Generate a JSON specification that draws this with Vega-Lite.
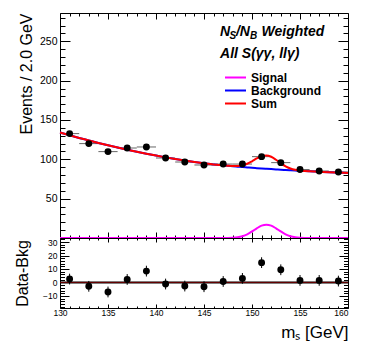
{
  "$schema": "https://vega.github.io/schema/vega-lite/v6.json",
  "background": "white",
  "padding": {"left": 14, "top": 12, "right": 5, "bottom": 5},
  "spacing": 0,
  "bounds": "flush",
  "datasets": {
    "pts": [
      {"m": 131, "lo": 130, "hi": 132, "ev": 132.7, "res": 2.5, "err": 4},
      {"m": 133, "lo": 132, "hi": 134, "ev": 120.0, "res": -2.9, "err": 4},
      {"m": 135, "lo": 134, "hi": 136, "ev": 109.8, "res": -7.1, "err": 4},
      {"m": 137, "lo": 136, "hi": 138, "ev": 114.4, "res": 2.2, "err": 4},
      {"m": 139, "lo": 138, "hi": 140, "ev": 115.7, "res": 8.4, "err": 4},
      {"m": 141, "lo": 140, "hi": 142, "ev": 101.7, "res": -1.2, "err": 4},
      {"m": 143, "lo": 142, "hi": 144, "ev": 96.6, "res": -2.7, "err": 4},
      {"m": 145, "lo": 144, "hi": 146, "ev": 92.8, "res": -3.2, "err": 4},
      {"m": 147, "lo": 146, "hi": 148, "ev": 94.0, "res": 0.7, "err": 4},
      {"m": 149, "lo": 148, "hi": 150, "ev": 94.0, "res": 3.0, "err": 4},
      {"m": 151, "lo": 150, "hi": 152, "ev": 103.4, "res": 14.7, "err": 4},
      {"m": 153, "lo": 152, "hi": 154, "ev": 95.8, "res": 9.4, "err": 4},
      {"m": 155, "lo": 154, "hi": 156, "ev": 87.0, "res": 1.5, "err": 4},
      {"m": 157, "lo": 156, "hi": 158, "ev": 85.2, "res": 1.5, "err": 4},
      {"m": 159, "lo": 158, "hi": 160, "ev": 83.9, "res": 1.0, "err": 4}
    ],
    "curves": [
      {"x": 130, "sig": 0, "bkg": 134.0, "sum": 134.0},
      {"x": 131, "sig": 0, "bkg": 130.5, "sum": 130.5},
      {"x": 132, "sig": 0, "bkg": 127.2, "sum": 127.2},
      {"x": 133, "sig": 0, "bkg": 124.0, "sum": 124.0},
      {"x": 134, "sig": 0, "bkg": 120.8, "sum": 120.8},
      {"x": 135, "sig": 0, "bkg": 117.8, "sum": 117.8},
      {"x": 136, "sig": 0, "bkg": 115.0, "sum": 115.0},
      {"x": 137, "sig": 0, "bkg": 112.3, "sum": 112.3},
      {"x": 138, "sig": 0, "bkg": 109.7, "sum": 109.7},
      {"x": 139, "sig": 0, "bkg": 107.2, "sum": 107.2},
      {"x": 140, "sig": 0, "bkg": 104.8, "sum": 104.8},
      {"x": 141, "sig": 0, "bkg": 102.5, "sum": 102.5},
      {"x": 142, "sig": 0, "bkg": 100.4, "sum": 100.4},
      {"x": 143, "sig": 0, "bkg": 98.4, "sum": 98.4},
      {"x": 144, "sig": 0, "bkg": 96.6, "sum": 96.6},
      {"x": 145, "sig": 0, "bkg": 94.9, "sum": 94.9},
      {"x": 146, "sig": 0, "bkg": 93.4, "sum": 93.4},
      {"x": 146.5, "sig": 0, "bkg": 92.9, "sum": 92.9},
      {"x": 147, "sig": 0.03, "bkg": 92.4, "sum": 92.43},
      {"x": 147.5, "sig": 0.1, "bkg": 91.7, "sum": 91.8},
      {"x": 148, "sig": 0.34, "bkg": 91.1, "sum": 91.44},
      {"x": 148.5, "sig": 0.95, "bkg": 90.6, "sum": 91.55},
      {"x": 149, "sig": 2.3, "bkg": 90.1, "sum": 92.4},
      {"x": 149.5, "sig": 4.7, "bkg": 89.65, "sum": 94.35},
      {"x": 150, "sig": 8.3, "bkg": 89.2, "sum": 97.5},
      {"x": 150.5, "sig": 12.3, "bkg": 88.8, "sum": 101.1},
      {"x": 151, "sig": 15.7, "bkg": 88.4, "sum": 104.1},
      {"x": 151.5, "sig": 17.0, "bkg": 88.0, "sum": 105.0},
      {"x": 152, "sig": 15.7, "bkg": 87.6, "sum": 103.3},
      {"x": 152.5, "sig": 12.3, "bkg": 87.2, "sum": 99.5},
      {"x": 153, "sig": 8.3, "bkg": 86.8, "sum": 95.1},
      {"x": 153.5, "sig": 4.7, "bkg": 86.45, "sum": 91.15},
      {"x": 154, "sig": 2.3, "bkg": 86.1, "sum": 88.4},
      {"x": 154.5, "sig": 0.95, "bkg": 85.75, "sum": 86.7},
      {"x": 155, "sig": 0.34, "bkg": 85.4, "sum": 85.74},
      {"x": 155.5, "sig": 0.1, "bkg": 85.1, "sum": 85.2},
      {"x": 156, "sig": 0.03, "bkg": 84.8, "sum": 84.83},
      {"x": 156.5, "sig": 0, "bkg": 84.5, "sum": 84.5},
      {"x": 157, "sig": 0, "bkg": 84.2, "sum": 84.2},
      {"x": 158, "sig": 0, "bkg": 83.6, "sum": 83.6},
      {"x": 159, "sig": 0, "bkg": 83.1, "sum": 83.1},
      {"x": 160, "sig": 0, "bkg": 82.6, "sum": 82.6}
    ],
    "zero": [{"x": 130, "y": 0}, {"x": 160, "y": 0}]
  },
  "vconcat": [
    {
      "width": 288,
      "height": 225,
      "resolve": {"axis": {"x": "independent", "y": "independent"}},
      "layer": [
        {
          "data": {"name": "pts"},
          "mark": {"type": "rule", "color": "#666666", "strokeWidth": 1},
          "encoding": {
            "x": {"field": "lo", "type": "quantitative", "scale": {"domain": [130, 160], "nice": false, "zero": false},
              "axis": {"orient": "bottom", "values": [130, 135, 140, 145, 150, 155, 160], "tickSize": -6, "labels": false, "title": null}},
            "x2": {"field": "hi"},
            "y": {"field": "ev", "type": "quantitative", "scale": {"domain": [0, 286], "nice": false, "zero": false},
              "axis": {"orient": "left", "values": [50, 100, 150, 200, 250], "tickSize": -10, "labelPadding": 13, "labelFontSize": 10.5,
                "title": "Events / 2.0 GeV", "titleFontSize": 16, "titleX": -29, "titleY": 0, "titleAngle": 270, "titleAlign": "right", "titleBaseline": "alphabetic"}}
          }
        },
        {
          "data": {"name": "curves"},
          "mark": {"type": "line", "strokeWidth": 2, "interpolate": "monotone"},
          "encoding": {
            "x": {"field": "x", "type": "quantitative", "axis": {"orient": "top", "values": [130, 135, 140, 145, 150, 155, 160], "tickSize": -6, "labels": false, "title": null}},
            "y": {"field": "sig", "type": "quantitative", "axis": {"orient": "right", "values": [50, 100, 150, 200, 250], "tickSize": -10, "labels": false, "title": null}},
            "color": {"datum": "Signal", "type": "nominal",
              "scale": {"domain": ["Signal", "Background", "Sum"], "range": ["#ff00ff", "#0000ff", "#ff0000"]},
              "legend": {"orient": "none", "legendX": 164, "legendY": 59, "title": null, "symbolType": "stroke", "symbolStrokeWidth": 2, "symbolSize": 441, "labelFont": "Liberation Sans", "labelFontWeight": "bold", "labelFontSize": 12, "labelColor": "black", "labelOffset": 4, "clipHeight": 11, "rowPadding": 0, "padding": 0}}
          }
        },
        {
          "data": {"name": "curves"},
          "mark": {"type": "line", "strokeWidth": 2, "interpolate": "monotone"},
          "encoding": {
            "x": {"field": "x", "type": "quantitative", "axis": {"orient": "top", "values": [131, 132, 133, 134, 136, 137, 138, 139, 141, 142, 143, 144, 146, 147, 148, 149, 151, 152, 153, 154, 156, 157, 158, 159], "tickSize": -3, "labels": false, "title": null}},
            "y": {"field": "bkg", "type": "quantitative", "axis": {"orient": "right", "values": [10, 20, 30, 40, 60, 70, 80, 90, 110, 120, 130, 140, 160, 170, 180, 190, 210, 220, 230, 240, 260, 270, 280], "tickSize": -5, "labels": false, "title": null}},
            "color": {"datum": "Background", "type": "nominal"}
          }
        },
        {
          "data": {"name": "curves"},
          "mark": {"type": "line", "strokeWidth": 2, "interpolate": "monotone"},
          "encoding": {
            "x": {"field": "x", "type": "quantitative", "axis": null},
            "y": {"field": "sum", "type": "quantitative", "axis": null},
            "color": {"datum": "Sum", "type": "nominal"}
          }
        },
        {
          "data": {"name": "pts"},
          "mark": {"type": "point", "filled": true, "color": "black", "size": 48, "opacity": 1},
          "encoding": {
            "x": {"field": "m", "type": "quantitative", "axis": {"orient": "bottom", "values": [131, 132, 133, 134, 136, 137, 138, 139, 141, 142, 143, 144, 146, 147, 148, 149, 151, 152, 153, 154, 156, 157, 158, 159], "tickSize": -3, "labels": false, "title": null}},
            "y": {"field": "ev", "type": "quantitative", "axis": {"orient": "left", "values": [10, 20, 30, 40, 60, 70, 80, 90, 110, 120, 130, 140, 160, 170, 180, 190, 210, 220, 230, 240, 260, 270, 280], "tickSize": -5, "labels": false, "title": null}}
          }
        },
        {
          "data": {"values": [{"t": "N"}]},
          "mark": {"type": "text", "align": "left", "baseline": "alphabetic", "font": "Liberation Sans", "fontWeight": "bold", "fontStyle": "italic", "fontSize": 14, "color": "black"},
          "encoding": {"x": {"datum": 146.67, "type": "quantitative", "axis": null}, "y": {"datum": 256.8, "type": "quantitative", "axis": null}, "text": {"field": "t"}}
        },
        {
          "data": {"values": [{"t": "S"}]},
          "mark": {"type": "text", "align": "left", "baseline": "alphabetic", "font": "Liberation Sans", "fontWeight": "bold", "fontStyle": "italic", "fontSize": 10, "color": "black"},
          "encoding": {"x": {"datum": 147.66, "type": "quantitative", "axis": null}, "y": {"datum": 252.6, "type": "quantitative", "axis": null}, "text": {"field": "t"}}
        },
        {
          "data": {"values": [{"t": "/N"}]},
          "mark": {"type": "text", "align": "left", "baseline": "alphabetic", "font": "Liberation Sans", "fontWeight": "bold", "fontStyle": "italic", "fontSize": 14, "color": "black"},
          "encoding": {"x": {"datum": 148.33, "type": "quantitative", "axis": null}, "y": {"datum": 256.8, "type": "quantitative", "axis": null}, "text": {"field": "t"}}
        },
        {
          "data": {"values": [{"t": "B"}]},
          "mark": {"type": "text", "align": "left", "baseline": "alphabetic", "font": "Liberation Sans", "fontWeight": "bold", "fontStyle": "italic", "fontSize": 10, "color": "black"},
          "encoding": {"x": {"datum": 149.79, "type": "quantitative", "axis": null}, "y": {"datum": 252.6, "type": "quantitative", "axis": null}, "text": {"field": "t"}}
        },
        {
          "data": {"values": [{"t": "Weighted"}]},
          "mark": {"type": "text", "align": "left", "baseline": "alphabetic", "font": "Liberation Sans", "fontWeight": "bold", "fontStyle": "italic", "fontSize": 14, "color": "black"},
          "encoding": {"x": {"datum": 150.99, "type": "quantitative", "axis": null}, "y": {"datum": 256.8, "type": "quantitative", "axis": null}, "text": {"field": "t"}}
        },
        {
          "data": {"values": [{"t": "All S(γγ, llγ)"}]},
          "mark": {"type": "text", "align": "left", "baseline": "alphabetic", "font": "Liberation Sans", "fontWeight": "bold", "fontStyle": "italic", "fontSize": 14, "color": "black"},
          "encoding": {"x": {"datum": 146.67, "type": "quantitative", "axis": null}, "y": {"datum": 229.2, "type": "quantitative", "axis": null}, "text": {"field": "t"}}
        }
      ]
    },
    {
      "width": 288,
      "height": 70,
      "resolve": {"axis": {"x": "independent", "y": "independent"}},
      "layer": [
        {
          "data": {"name": "zero"},
          "mark": {"type": "line", "color": "black", "strokeWidth": 2},
          "encoding": {
            "x": {"field": "x", "type": "quantitative", "scale": {"domain": [130, 160], "nice": false, "zero": false},
              "axis": {"orient": "top", "values": [130, 135, 140, 145, 150, 155, 160], "tickSize": -4, "labels": false, "title": null}},
            "y": {"field": "y", "type": "quantitative", "scale": {"domain": [-19, 33], "nice": false, "zero": false},
              "axis": {"orient": "right", "values": [-10, 0, 10, 20, 30], "tickSize": -9, "labels": false, "title": null}}
          }
        },
        {
          "data": {"name": "zero"},
          "mark": {"type": "line", "color": "#b00000", "strokeWidth": 1, "opacity": 0.6},
          "encoding": {
            "x": {"field": "x", "type": "quantitative", "axis": {"orient": "top", "values": [131, 132, 133, 134, 136, 137, 138, 139, 141, 142, 143, 144, 146, 147, 148, 149, 151, 152, 153, 154, 156, 157, 158, 159], "tickSize": -2, "labels": false, "title": null}},
            "y": {"field": "y", "type": "quantitative", "axis": {"orient": "right", "values": [-18, -16, -14, -12, -8, -6, -4, -2, 2, 4, 6, 8, 12, 14, 16, 18, 22, 24, 26, 28, 32], "tickSize": -4.5, "labels": false, "title": null}}
          }
        },
        {
          "data": {"name": "pts"},
          "mark": {"type": "errorbar", "color": "black", "thickness": 1},
          "encoding": {
            "x": {"field": "m", "type": "quantitative", "axis": {"orient": "bottom", "values": [131, 132, 133, 134, 136, 137, 138, 139, 141, 142, 143, 144, 146, 147, 148, 149, 151, 152, 153, 154, 156, 157, 158, 159], "tickSize": -2, "labels": false, "title": null}},
            "y": {"field": "res", "type": "quantitative", "axis": {"orient": "left", "values": [-18, -16, -14, -12, -8, -6, -4, -2, 2, 4, 6, 8, 12, 14, 16, 18, 22, 24, 26, 28, 32], "tickSize": -4.5, "labels": false, "title": null}},
            "yError": {"field": "err"}
          }
        },
        {
          "data": {"name": "pts"},
          "mark": {"type": "point", "filled": true, "color": "black", "size": 48, "opacity": 1},
          "encoding": {
            "x": {"field": "m", "type": "quantitative",
              "axis": {"orient": "bottom", "values": [130, 135, 140, 145, 150, 155, 160], "tickSize": -4, "labelPadding": 4.5, "labelFontSize": 8.5, "labelFlush": false,
                "labelAlign": {"condition": {"test": "datum.value >= 160", "value": "right"}, "value": "center"},
                "title": "mₛ [GeV]", "titleAnchor": "end", "titleFontSize": 17, "titlePadding": 7}},
            "y": {"field": "res", "type": "quantitative",
              "axis": {"orient": "left", "values": [-10, 0, 10, 20, 30], "tickSize": -9, "labelPadding": 12, "labelFontSize": 8.5,
                "title": "Data-Bkg", "titleFontSize": 16, "titleX": -32.3, "titleY": 35, "titleAngle": 270, "titleAlign": "center", "titleBaseline": "alphabetic"}}
          }
        }
      ]
    }
  ],
  "config": {
    "view": {"stroke": "black", "strokeWidth": 1},
    "axis": {"domain": false, "grid": false, "tickColor": "black", "tickWidth": 1, "labelFont": "Liberation Sans", "labelColor": "black", "titleFont": "Liberation Sans", "titleColor": "black", "titleFontWeight": "normal"}
  }
}
